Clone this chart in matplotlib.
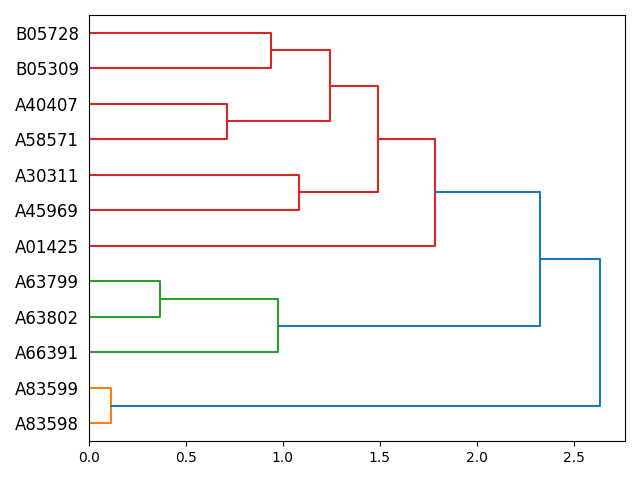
import matplotlib
matplotlib.use('Agg')
import matplotlib.pyplot as plt

# leaves, bottom to top
leaves = ['A83598', 'A83599', 'A66391', 'A63802', 'A63799', 'A01425',
          'A45969', 'A30311', 'A58571', 'A40407', 'B05309', 'B05728']

# merges: left node, right node, height (new node ids start at 12)
left = [0, 3, 2, 8, 10, 6, 15, 17, 5, 14, 12]
right = [1, 4, 13, 9, 11, 7, 16, 18, 19, 20, 21]
heights = [0.114, 0.367, 0.976, 0.713, 0.94, 1.085, 1.245, 1.493, 1.782, 2.324, 2.634]
colors = ['C1', 'C2', 'C2', 'C3', 'C3', 'C3', 'C3', 'C3', 'C3', 'C0', 'C0']

fig, ax = plt.subplots(figsize=(6.4, 4.8), dpi=100)
fig.subplots_adjust(left=0.139, right=0.977, top=0.969, bottom=0.081)

pos = {i: 5 + 10 * i for i in range(len(leaves))}
hgt = {i: 0.0 for i in range(len(leaves))}

n = len(leaves)
for k in range(len(heights)):
    a, b, h = left[k], right[k], heights[k]
    ya, yb = pos[a], pos[b]
    ax.plot([hgt[a], h, h, hgt[b]], [ya, ya, yb, yb], color=colors[k], linewidth=1.5)
    pos[n + k] = (ya + yb) / 2
    hgt[n + k] = h

ax.set_ylim(0, 10 * n)
ax.set_xlim(0, max(heights) * 1.05)
ax.set_yticks([5 + 10 * i for i in range(n)])
ax.set_yticklabels(leaves, size=12)
for line in ax.get_yticklines():
    line.set_visible(False)
ax.xaxis.set_ticks_position('bottom')

plt.savefig('out.png')
